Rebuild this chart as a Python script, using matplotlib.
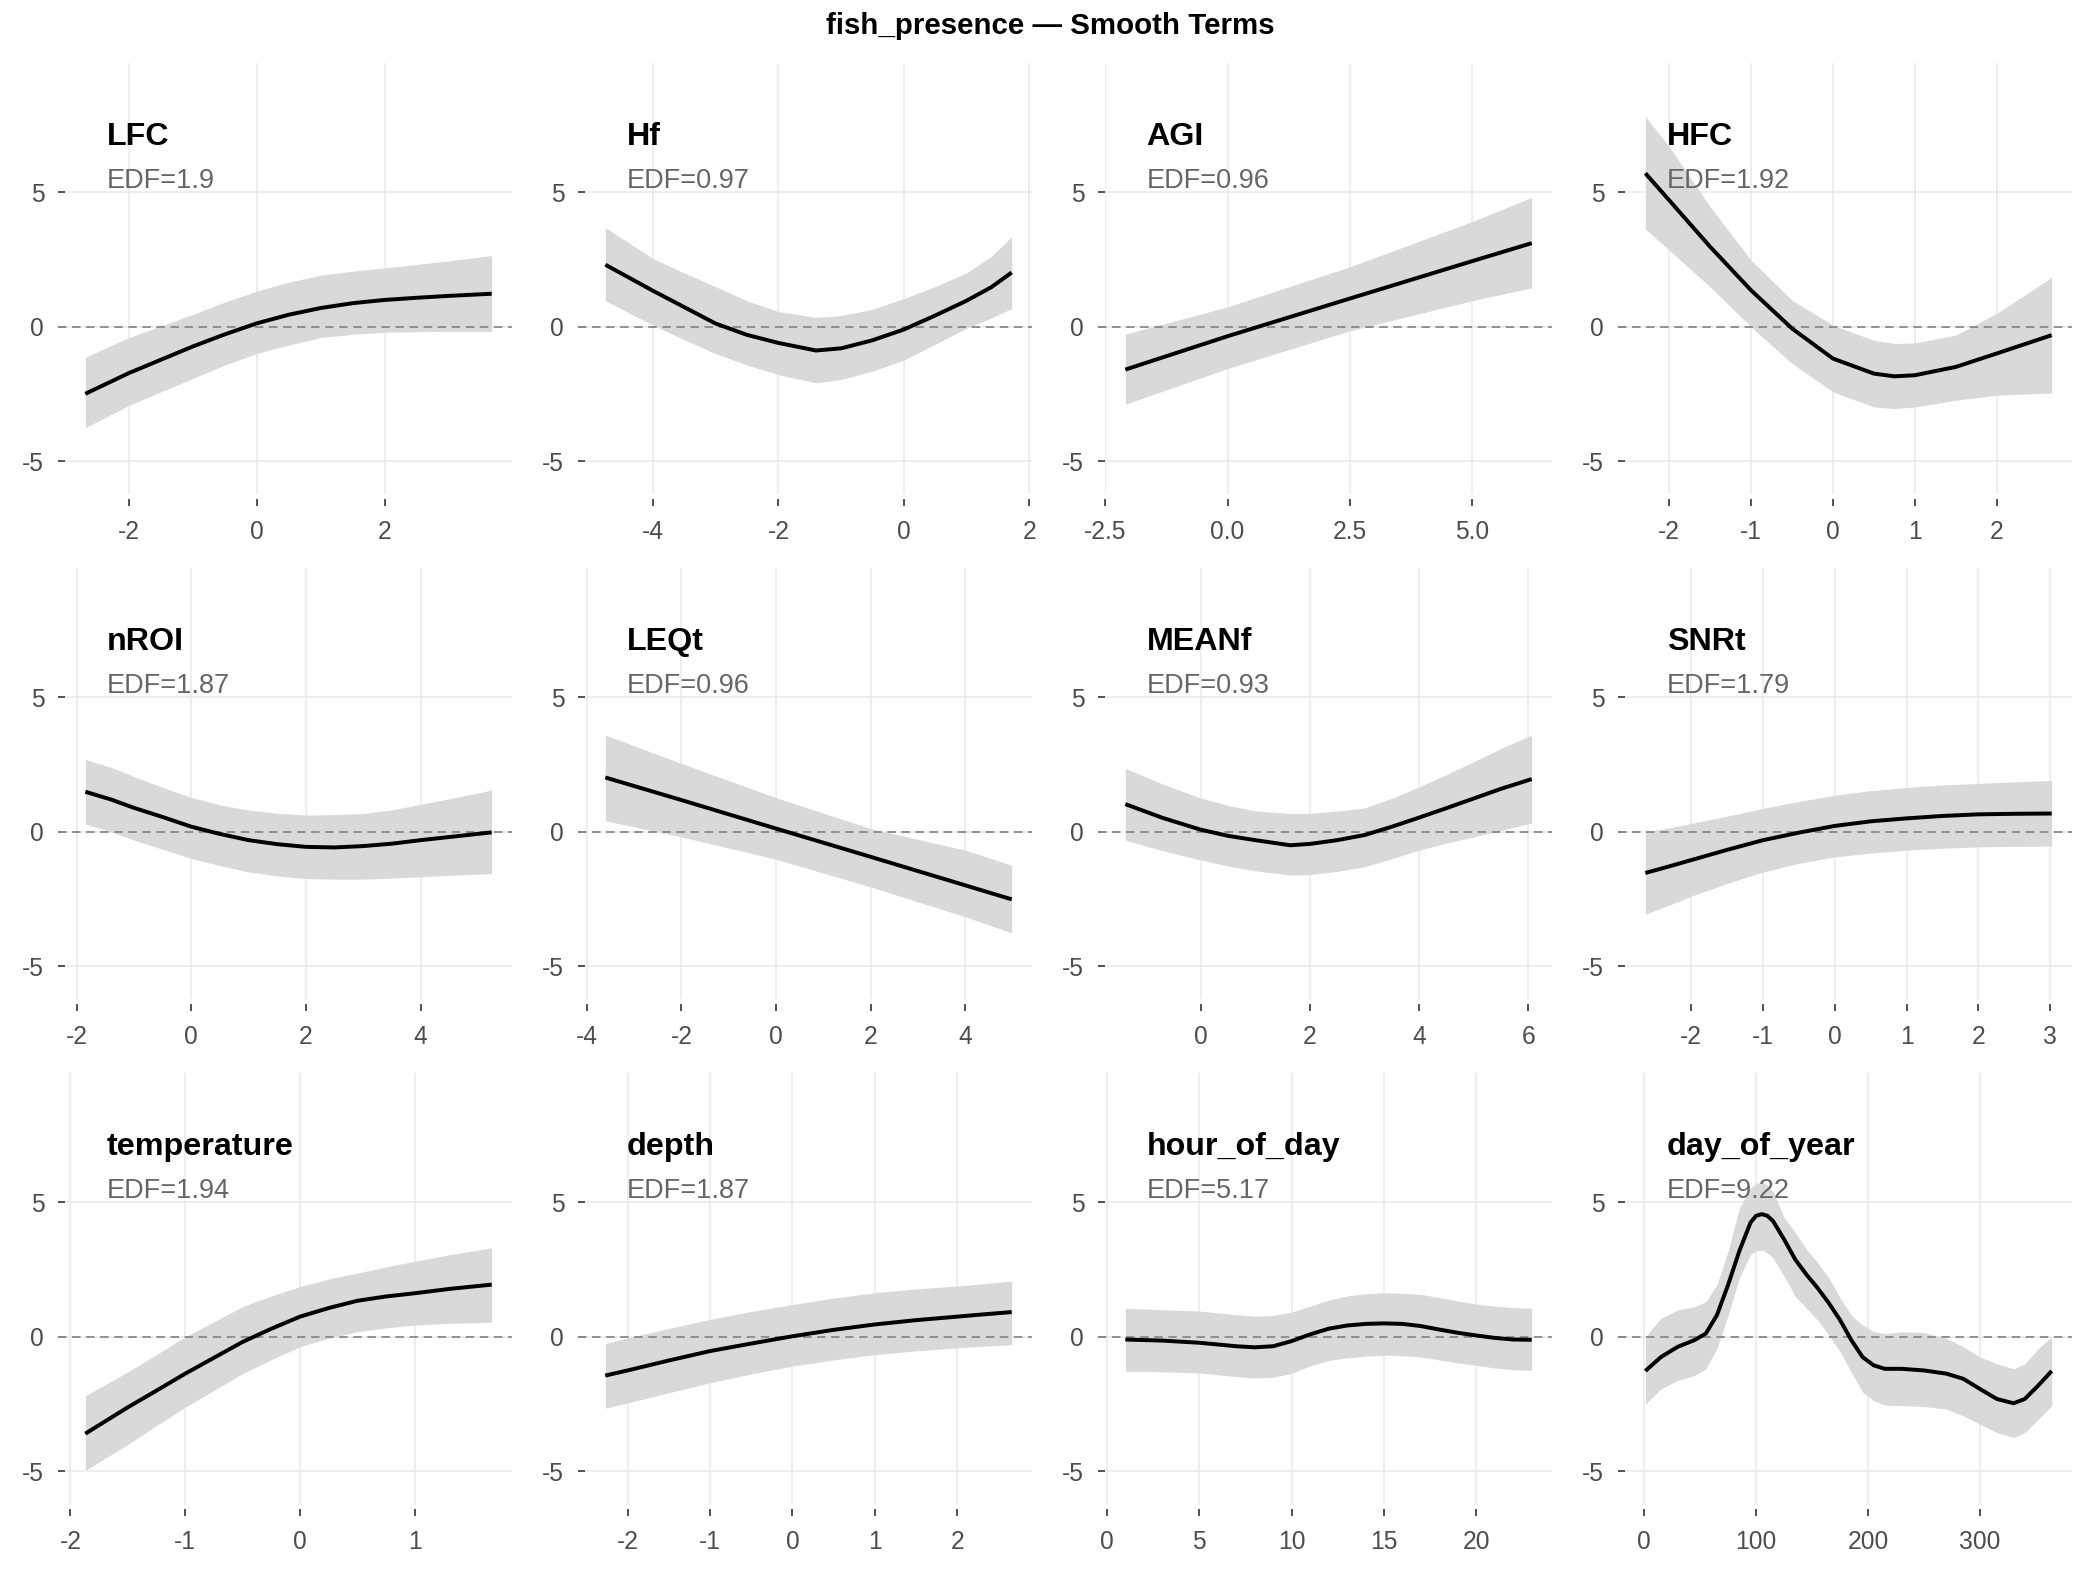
import matplotlib
matplotlib.use("Agg")
import matplotlib.pyplot as plt

plt.rcParams['font.family'] = ['Liberation Sans', 'DejaVu Sans']
plt.rcParams['axes.unicode_minus'] = False

# ---------------- data ----------------
title = "fish_presence \u2014 Smooth Terms"
y_ticks = [-5, 0, 5]
y_tick_labels = ["-5", "0", "5"]

lfc_x   = [-2.68, -2, -1, -0.5, 0, 0.5, 1, 1.5, 2, 2.5, 3, 3.67]
lfc_fit = [-2.49, -1.72, -0.73, -0.28, 0.13, 0.45, 0.70, 0.88, 1.00, 1.08, 1.15, 1.23]
lfc_lo  = [-3.75, -2.92, -1.92, -1.42, -0.99, -0.68, -0.40, -0.28, -0.20, -0.18, -0.17, -0.17]
lfc_hi  = [-1.13, -0.40, 0.46, 0.92, 1.33, 1.66, 1.92, 2.07, 2.19, 2.32, 2.45, 2.65]
lfc_edf = 1.9
lfc_ticks = [-2, 0, 2]

hf_x   = [-4.76, -4, -3.5, -3, -2.5, -2, -1.4, -1, -0.5, 0, 0.5, 1, 1.4, 1.72]
hf_fit = [2.31, 1.34, 0.73, 0.12, -0.30, -0.60, -0.88, -0.80, -0.50, -0.10, 0.42, 0.97, 1.48, 2.02]
hf_lo  = [0.97, 0.06, -0.48, -1.00, -1.42, -1.78, -2.08, -1.96, -1.65, -1.24, -0.65, -0.05, 0.33, 0.68]
hf_hi  = [3.69, 2.54, 2.00, 1.49, 0.97, 0.57, 0.35, 0.42, 0.65, 1.05, 1.50, 2.00, 2.63, 3.35]
hf_edf = 0.97
hf_ticks = [-4, -2, 0, 2]

agi_x   = [-2.09, 0, 2.5, 5.0, 6.22]
agi_fit = [-1.59, -0.35, 1.05, 2.44, 3.11]
agi_lo  = [-2.88, -1.55, -0.15, 0.97, 1.45]
agi_hi  = [-0.27, 0.74, 2.23, 3.91, 4.81]
agi_edf = 0.96
agi_ticks = [-2.5, 0.0, 2.5, 5.0]
agi_tick_labels = ["-2.5", "0.0", "2.5", "5.0"]

hfc_x   = [-2.29, -2, -1.5, -1, -0.5, 0, 0.5, 0.75, 1, 1.5, 2, 2.67]
hfc_fit = [5.71, 4.71, 2.98, 1.36, -0.06, -1.18, -1.74, -1.84, -1.80, -1.49, -0.99, -0.31]
hfc_lo  = [3.64, 2.85, 1.49, 0.00, -1.36, -2.42, -2.98, -3.04, -2.98, -2.73, -2.54, -2.46]
hfc_hi  = [7.82, 6.70, 4.47, 2.48, 0.99, 0.06, -0.50, -0.62, -0.60, -0.31, 0.50, 1.84]
hfc_edf = 1.92
hfc_ticks = [-2, -1, 0, 1, 2]

nroi_x   = [-1.85, -1.4, -1, -0.5, 0, 0.5, 1, 1.5, 2, 2.5, 3, 3.5, 4, 4.6, 5.24]
nroi_fit = [1.49, 1.20, 0.89, 0.55, 0.19, -0.08, -0.31, -0.46, -0.56, -0.58, -0.53, -0.44, -0.31, -0.17, -0.02]
nroi_lo  = [0.29, 0.00, -0.31, -0.65, -0.99, -1.26, -1.49, -1.64, -1.74, -1.76, -1.76, -1.72, -1.67, -1.61, -1.55]
nroi_hi  = [2.69, 2.40, 2.05, 1.65, 1.28, 1.00, 0.81, 0.69, 0.62, 0.64, 0.68, 0.82, 1.02, 1.27, 1.55]
nroi_edf = 1.87
nroi_ticks = [-2, 0, 2, 4]

leqt_x   = [-3.61, -2, 0, 2, 4, 4.98]
leqt_fit = [2.02, 1.18, 0.12, -0.93, -1.99, -2.51]
leqt_lo  = [0.41, -0.19, -1.02, -2.05, -3.16, -3.76]
leqt_hi  = [3.60, 2.54, 1.27, 0.12, -0.68, -1.24]
leqt_edf = 0.96
leqt_ticks = [-4, -2, 0, 2, 4]

meanf_x   = [-1.38, -0.7, 0, 0.5, 1, 1.64, 2, 2.5, 3, 3.5, 4, 4.5, 5, 5.5, 6.06]
meanf_fit = [1.03, 0.52, 0.08, -0.15, -0.31, -0.50, -0.45, -0.31, -0.12, 0.19, 0.53, 0.88, 1.24, 1.60, 1.96]
meanf_lo  = [-0.31, -0.70, -1.05, -1.27, -1.45, -1.61, -1.59, -1.47, -1.30, -1.00, -0.68, -0.42, -0.19, 0.05, 0.33]
meanf_hi  = [2.36, 1.78, 1.26, 0.98, 0.78, 0.68, 0.69, 0.77, 0.89, 1.25, 1.67, 2.13, 2.61, 3.10, 3.60]
meanf_edf = 0.93
meanf_ticks = [0, 2, 4, 6]

snrt_x   = [-2.64, -2.3, -2, -1.5, -1, -0.5, 0, 0.5, 1, 1.5, 2, 2.5, 3.02]
snrt_fit = [-1.53, -1.28, -1.05, -0.67, -0.31, -0.03, 0.22, 0.39, 0.50, 0.59, 0.65, 0.67, 0.68]
snrt_lo  = [-3.06, -2.72, -2.39, -1.92, -1.49, -1.17, -0.93, -0.79, -0.68, -0.61, -0.56, -0.54, -0.53]
snrt_hi  = [0.00, 0.15, 0.31, 0.58, 0.87, 1.13, 1.36, 1.53, 1.65, 1.74, 1.80, 1.86, 1.91]
snrt_edf = 1.79
snrt_ticks = [-2, -1, 0, 1, 2, 3]

temp_x   = [-1.87, -1.5, -1.25, -1, -0.5, -0.25, 0, 0.25, 0.5, 0.75, 1, 1.3, 1.67]
temp_fit = [-3.60, -2.62, -2.00, -1.37, -0.19, 0.30, 0.75, 1.07, 1.34, 1.50, 1.62, 1.78, 1.94]
temp_lo  = [-4.97, -4.00, -3.30, -2.62, -1.37, -0.85, -0.37, -0.05, 0.19, 0.33, 0.44, 0.50, 0.54]
temp_hi  = [-2.19, -1.31, -0.66, 0.00, 1.12, 1.52, 1.87, 2.15, 2.37, 2.60, 2.81, 3.05, 3.31]
temp_edf = 1.94
temp_ticks = [-2, -1, 0, 1]

depth_x   = [-2.27, -2, -1.5, -1, -0.5, 0, 0.5, 1, 1.5, 2, 2.3, 2.66]
depth_fit = [-1.44, -1.25, -0.88, -0.53, -0.25, 0.02, 0.26, 0.46, 0.62, 0.75, 0.83, 0.92]
depth_lo  = [-2.65, -2.46, -2.08, -1.71, -1.38, -1.09, -0.86, -0.66, -0.52, -0.41, -0.35, -0.29]
depth_hi  = [-0.25, -0.04, 0.31, 0.65, 0.94, 1.20, 1.44, 1.64, 1.78, 1.89, 1.97, 2.07]
depth_edf = 1.87
depth_ticks = [-2, -1, 0, 1, 2]

hour_x   = [1, 3, 5, 7, 8, 9, 10, 11, 12, 13, 14, 15, 16, 17, 18, 19, 20, 21, 22, 23]
hour_fit = [-0.10, -0.14, -0.22, -0.35, -0.39, -0.35, -0.16, 0.09, 0.30, 0.42, 0.48, 0.50,
            0.48, 0.40, 0.27, 0.15, 0.05, -0.04, -0.10, -0.11]
hour_lo  = [-1.28, -1.30, -1.34, -1.48, -1.53, -1.51, -1.36, -1.08, -0.88, -0.78, -0.72, -0.68,
            -0.70, -0.75, -0.86, -0.97, -1.06, -1.16, -1.22, -1.25]
hour_hi  = [1.06, 1.01, 0.96, 0.82, 0.77, 0.79, 0.92, 1.14, 1.36, 1.52, 1.60, 1.64,
            1.62, 1.58, 1.46, 1.33, 1.22, 1.14, 1.09, 1.06]
hour_edf = 5.17
hour_ticks = [0, 5, 10, 15, 20]

doy_x   = [1, 15, 30, 45, 55, 65, 75, 85, 95, 100, 105, 110, 115, 125, 135, 145, 155, 165, 175,
           185, 195, 205, 215, 230, 250, 270, 285, 300, 315, 330, 340, 352, 364]
doy_fit = [-1.27, -0.75, -0.37, -0.12, 0.12, 0.81, 1.94, 3.19, 4.25, 4.50, 4.56, 4.50, 4.31,
           3.62, 2.87, 2.31, 1.81, 1.25, 0.62, -0.12, -0.75, -1.06, -1.19, -1.19, -1.25, -1.37,
           -1.56, -1.94, -2.31, -2.47, -2.31, -1.81, -1.27]
doy_lo  = [-2.50, -1.94, -1.62, -1.44, -1.19, -0.44, 0.81, 2.19, 3.06, 3.20, 3.22, 3.12, 2.94,
           2.25, 1.50, 1.06, 0.62, 0.06, -0.56, -1.31, -2.06, -2.37, -2.54, -2.56, -2.59, -2.69,
           -2.94, -3.25, -3.56, -3.75, -3.56, -3.06, -2.56]
doy_hi  = [0.00, 0.69, 1.00, 1.12, 1.31, 1.94, 3.19, 4.79, 5.54, 5.70, 5.75, 5.65, 5.41, 4.44,
           3.87, 3.25, 2.75, 2.19, 1.44, 0.81, 0.44, 0.19, 0.12, 0.19, 0.16, -0.06, -0.37, -0.75,
           -1.00, -1.19, -1.00, -0.44, 0.00]
doy_edf = 9.22
doy_ticks = [0, 100, 200, 300]

panels = [
    ("LFC", lfc_x, lfc_fit, lfc_lo, lfc_hi, lfc_edf, lfc_ticks, None),
    ("Hf", hf_x, hf_fit, hf_lo, hf_hi, hf_edf, hf_ticks, None),
    ("AGI", agi_x, agi_fit, agi_lo, agi_hi, agi_edf, agi_ticks, agi_tick_labels),
    ("HFC", hfc_x, hfc_fit, hfc_lo, hfc_hi, hfc_edf, hfc_ticks, None),
    ("nROI", nroi_x, nroi_fit, nroi_lo, nroi_hi, nroi_edf, nroi_ticks, None),
    ("LEQt", leqt_x, leqt_fit, leqt_lo, leqt_hi, leqt_edf, leqt_ticks, None),
    ("MEANf", meanf_x, meanf_fit, meanf_lo, meanf_hi, meanf_edf, meanf_ticks, None),
    ("SNRt", snrt_x, snrt_fit, snrt_lo, snrt_hi, snrt_edf, snrt_ticks, None),
    ("temperature", temp_x, temp_fit, temp_lo, temp_hi, temp_edf, temp_ticks, None),
    ("depth", depth_x, depth_fit, depth_lo, depth_hi, depth_edf, depth_ticks, None),
    ("hour_of_day", hour_x, hour_fit, hour_lo, hour_hi, hour_edf, hour_ticks, None),
    ("day_of_year", doy_x, doy_fit, doy_lo, doy_hi, doy_edf, doy_ticks, None),
]

# ---------------- layout ----------------
W, H = 2100, 1575
fig = plt.figure(figsize=(14, 10.5), dpi=150)
col_left_px = [65, 585, 1105, 1625]
panel_w_px = 447
row_top_px = [63.2, 568.2, 1073.2]
panel_h_px = 430.4
YLIM = (-6.2, 9.8)

fig.text(0.5, 1 - 33.5 / H, title, ha='center', va='baseline',
         fontsize=14.2, fontweight='bold', color='black')

for i, (name, x, fit, lo, hi, edf, xt, xtl) in enumerate(panels):
    r, c = divmod(i, 4)
    left = col_left_px[c] / W
    bottom = 1 - (row_top_px[r] + panel_h_px) / H
    ax = fig.add_axes([left, bottom, panel_w_px / W, panel_h_px / H])
    ax.set_facecolor('white')
    for s in ax.spines.values():
        s.set_visible(False)
    ax.spines['bottom'].set_position(('outward', 2.4))

    ax.grid(True, color='#ebebeb', linewidth=0.8, zorder=0)
    ax.set_axisbelow(True)

    ax.fill_between(x, lo, hi, color='#d9d9d9', linewidth=0, zorder=1)
    ax.plot([-0.015, 1.0], [0, 0], transform=ax.get_yaxis_transform(),
            color='#8c8c8c', linewidth=0.9, linestyle=(0, (4.5, 3)),
            clip_on=False, zorder=2)
    ax.plot(x, fit, color='black', linewidth=1.9, zorder=3,
            solid_joinstyle='round', solid_capstyle='butt')

    ax.margins(x=0.05)
    ax.set_ylim(*YLIM)
    ax.set_yticks(y_ticks)
    ax.set_yticklabels(y_tick_labels)
    ax.set_xticks(xt)
    if xtl is not None:
        ax.set_xticklabels(xtl)
    else:
        ax.set_xticklabels([str(v) for v in xt])

    ax.tick_params(axis='both', direction='out', length=3.2, width=0.8,
                   color='#333333', labelcolor='#4d4d4d', labelsize=11.8)
    ax.tick_params(axis='x', pad=7.0)
    ax.tick_params(axis='y', pad=6.8)

    ax.text(0.093, 0.810, name, transform=ax.transAxes, ha='left',
            va='baseline', fontsize=15.5, fontweight='bold', color='black',
            zorder=4)
    ax.text(0.093, 0.709, f"EDF={edf}", transform=ax.transAxes, ha='left',
            va='baseline', fontsize=13, color='#666666', zorder=4)

fig.savefig("out.png", dpi=150, facecolor='white')
